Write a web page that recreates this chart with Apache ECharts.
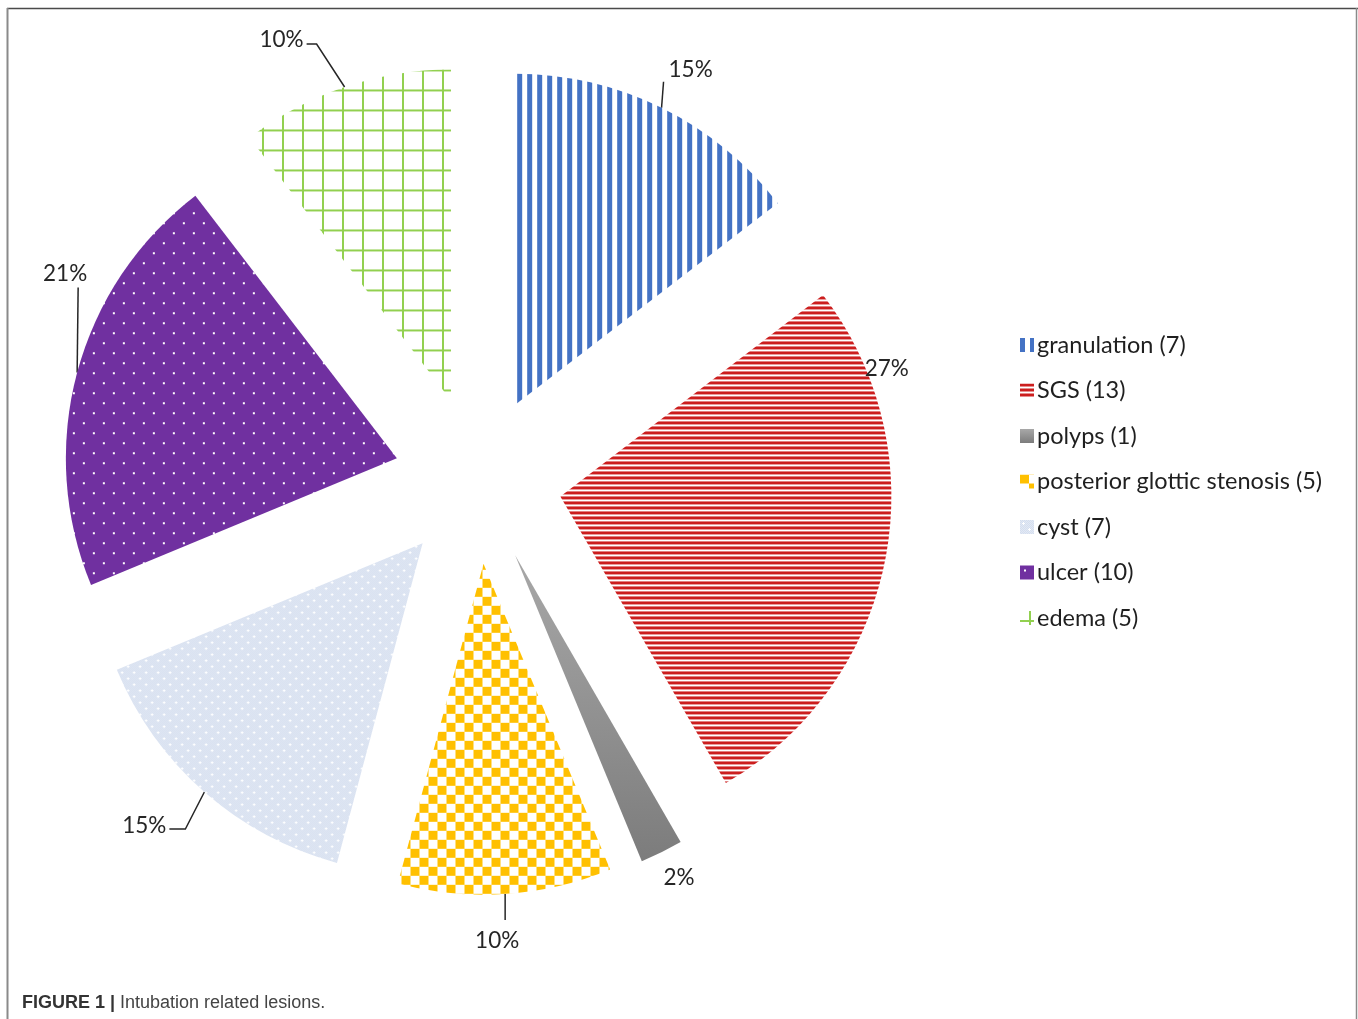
<!DOCTYPE html>
<html>
<head>
<meta charset="utf-8">
<script src="https://cdn.jsdelivr.net/npm/echarts@6/dist/echarts.min.js"></script>
<style>
html,body{margin:0;padding:0;background:#fff;}
#chart{width:1358px;height:1019px;}
</style>
</head>
<body>
<div id="chart"></div>
<script>
// ---- data ----
const categories = ['granulation', 'SGS', 'polyps', 'posterior glottic stenosis', 'cyst', 'ulcer', 'edema'];
const counts = [7, 13, 1, 5, 7, 10, 5];
const captionBold = 'FIGURE 1 |';
const captionText = ' Intubation related lesions.';

// ---- fill patterns ----
function pattern(w, h, draw) {
  const c = document.createElement('canvas');
  c.width = w; c.height = h;
  const g = c.getContext('2d');
  draw(g);
  return { image: c, repeat: 'repeat' };
}
const fills = [
  pattern(10, 10, g => { g.fillStyle = '#4472C4'; g.fillRect(0, 0, 5, 10); }),
  pattern(5, 5, g => { g.fillStyle = '#CC1E1E'; g.fillRect(0, 0, 5, 3); }),
  { type: 'linear', x: 0, y: 0, x2: 0, y2: 1, colorStops: [{ offset: 0, color: '#a8a8a8' }, { offset: 1, color: '#7c7c7c' }] },
  pattern(18, 18, g => { g.fillStyle = '#FFC000'; g.fillRect(0, 0, 9, 9); g.fillRect(9, 9, 9, 9); }),
  pattern(12, 12, g => {
    g.fillStyle = '#E3E9F4'; g.fillRect(0, 0, 12, 12);
    g.fillStyle = '#D4DEEF';
    for (let y = 0; y < 12; y++) for (let x = 0; x < 12; x++) if ((x + y) % 2 === 0) g.fillRect(x, y, 1, 1);
    g.fillStyle = '#ffffff';
    g.fillRect(2, 3, 3, 1); g.fillRect(3, 2, 1, 3);
    g.fillRect(8, 9, 3, 1); g.fillRect(9, 8, 1, 3);
  }),
  pattern(20, 20, g => {
    g.fillStyle = '#7030A0'; g.fillRect(0, 0, 20, 20);
    g.fillStyle = '#ffffff'; g.fillRect(4, 4, 2, 2); g.fillRect(14, 14, 2, 2);
  }),
  pattern(20, 20, g => {
    g.fillStyle = '#92D050'; g.fillRect(0, 9, 20, 2); g.fillRect(9, 0, 2, 20);
  })
];

const total = counts.reduce((a, b) => a + b, 0);
const seriesData = categories.map((name, i) => ({
  name: name,
  value: counts[i],
  selected: true,
  itemStyle: { color: fills[i] }
}));

// leader-line / label placement styles, relative to the slice's arc anchor point
const leader = [
  { guide: [[2, -26]], lab: [7, -38], side: 'left' },
  { fixed: [-45, -196] },
  { fixed: [-12, 8] },
  { guide: [[0, 26]], lab: [-8, 47], side: 'center' },
  { guide: [[-19, 37], [-35, 37]], lab: [-38, 34], side: 'right' },
  { guide: [[1, -85]], lab: [-12, -99], side: 'center' },
  { guide: [[-28, -43], [-38, -43]], lab: [-41, -47], side: 'right' }
];

const chart = echarts.init(document.getElementById('chart'), null, { renderer: 'canvas' });
chart.setOption({
  backgroundColor: '#ffffff',
  animation: false,
  title: {
    left: 22, top: 994, padding: 0,
    text: '{b|' + captionBold + '}{n|' + captionText + '}',
    textStyle: {
      rich: {
        b: { fontFamily: 'Liberation Sans', fontWeight: 'bold', fontSize: 18, color: '#333333' },
        n: { fontFamily: 'Liberation Sans', fontWeight: 'normal', fontSize: 18, color: '#444444' }
      }
    }
  },
  legend: {
    orient: 'vertical',
    left: 1015, top: 328,
    itemWidth: 14, itemHeight: 14,
    itemGap: 21.5,
    icon: 'rect',
    formatter: name => name + ' (' + counts[categories.indexOf(name)] + ')',
    textStyle: { fontFamily: 'Lato', fontSize: 23.5, color: '#1f1f1f', padding: [0, 0, 0, -2] }
  },
  graphic: [
    { type: 'line', shape: { x1: 7, y1: 8.5, x2: 1358, y2: 8.5 }, style: { stroke: '#4a4a4a', lineWidth: 1.5 } },
    { type: 'line', shape: { x1: 7.5, y1: 8, x2: 7.5, y2: 1019 }, style: { stroke: '#8a8a8a', lineWidth: 2 } },
    { type: 'line', shape: { x1: 1356.5, y1: 8, x2: 1356.5, y2: 1019 }, style: { stroke: '#8a8a8a', lineWidth: 1.5 } }
  ],
  series: [{
    type: 'pie',
    center: [478, 480],
    radius: 331,
    startAngle: 90,
    clockwise: true,
    selectedMode: 'multiple',
    selectedOffset: 84,
    avoidLabelOverlap: false,
    emphasis: { disabled: true },
    select: { itemStyle: { borderWidth: 0 } },
    label: {
      show: true,
      position: 'outside',
      fontFamily: 'Lato',
      fontSize: 22.5,
      color: '#262626',
      distanceToLabelLine: 5,
      formatter: p => Math.round(p.value / total * 100) + '%'
    },
    labelLine: { show: true, length: 20, length2: 0, lineStyle: { color: '#262626', width: 1.5 } },
    labelLayout: function (params) {
      const cfg = leader[params.dataIndex];
      if (cfg.fixed) {
        return { dx: cfg.fixed[0], dy: cfg.fixed[1], labelLinePoints: [[0, 0], [0, 0]] };
      }
      const pts = params.labelLinePoints;
      if (!pts) return {};
      const p0 = pts[0];
      const pEnd = pts[pts.length - 1];
      const w = params.labelRect.width;
      const leftSide = pEnd[0] < p0[0];
      const defCx = leftSide ? pEnd[0] - 5 - w / 2 : pEnd[0] + 5 + w / 2;
      const defCy = pEnd[1];
      let wantCx;
      const ax = p0[0] + cfg.lab[0];
      if (cfg.side === 'left') wantCx = ax + w / 2;
      else if (cfg.side === 'right') wantCx = ax - w / 2;
      else wantCx = ax;
      const wantCy = p0[1] + cfg.lab[1];
      const line = [p0].concat(cfg.guide.map(d => [p0[0] + d[0], p0[1] + d[1]]));
      return { dx: wantCx - defCx, dy: wantCy - defCy, labelLinePoints: line };
    },
    data: seriesData
  }]
});
</script>
</body>
</html>
